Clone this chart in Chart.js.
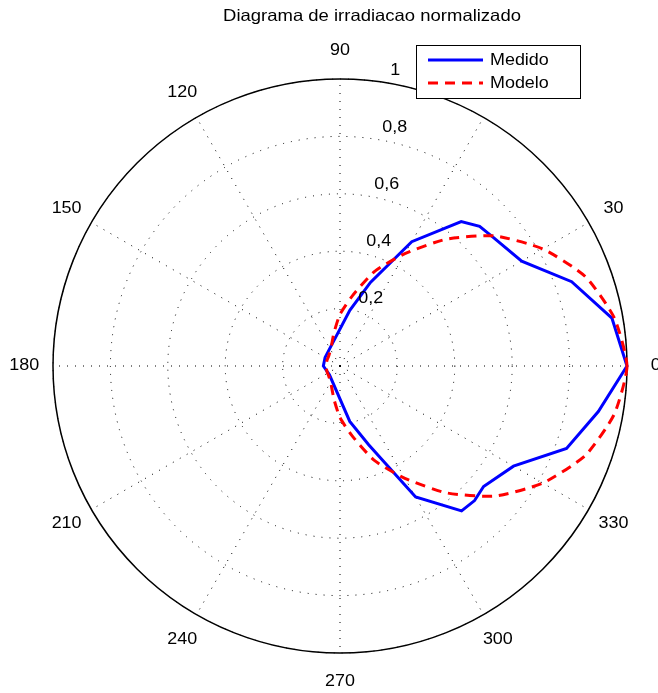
<!DOCTYPE html>
<html>
<head>
<meta charset="utf-8">
<title>Diagrama de irradiacao normalizado</title>
<script src="https://cdn.jsdelivr.net/npm/chart.js@4.4.1/dist/chart.umd.min.js"></script>
<style>
  html, body { margin: 0; padding: 0; background: #fff; }
  #wrap { width: 658px; height: 693px; }
</style>
</head>
<body>
<div id="wrap"><canvas id="myChart" width="658" height="693"></canvas></div>
<script>
// angulos em graus (sentido anti-horario, 0 a direita)
var angulosMedido = [0, 10, 20, 30, 40, 45, 50, 60, 70, 80, 150, 180, 220, 280, 290, 300, 310, 315, 320, 330, 340, 350]
var medido = [1.0, 0.962, 0.859, 0.731, 0.697, 0.688, 0.657, 0.50, 0.31, 0.197, 0.06, 0.058, 0.048, 0.196, 0.292, 0.527, 0.659, 0.663, 0.653, 0.698, 0.84, 0.914]

var angulosModelo = [0, 10, 20, 30, 40, 50, 60, 70, 80, 90, 100, 110, 120, 130, 140, 150, 160, 170,
                     180, 190, 200, 210, 220, 230, 240, 250, 260, 270, 280, 290, 300, 310, 320, 330, 340, 350]
var modelo = [1.0, 0.97, 0.91, 0.816, 0.705, 0.577, 0.452, 0.35, 0.248, 0.18, 0.119, 0.083, 0.065, 0.057, 0.052, 0.05, 0.049, 0.048,
              0.048, 0.048, 0.049, 0.05, 0.052, 0.057, 0.065, 0.083, 0.119, 0.18, 0.248, 0.35, 0.452, 0.577, 0.705, 0.816, 0.91, 0.97]

var rotulosAngulo = [0, 30, 60, 90, 120, 150, 180, 210, 240, 270, 300, 330]
var valoresRaio = [0.2, 0.4, 0.6, 0.8, 1]
var rotulosRaio = ['0,2', '0,4', '0,6', '0,8', '1']

var nomes = ['Medido', 'Modelo']
var titulo = 'Diagrama de irradiacao normalizado'

// grade de 5 graus, indo no sentido horario a partir de 0 (radar do chart.js)
var passo = 5
var grade = []
for (var i = 0; i < 360 / passo; i++) grade.push((360 - i * passo) % 360)

function naGrade(angs, vals) {
  var out = grade.map(function () { return null })
  for (var k = 0; k < angs.length; k++) {
    out[((360 - angs[k]) % 360) / passo] = vals[k]
  }
  return out
}

var fonte = '"Liberation Sans", Arial, Helvetica, sans-serif'
var esticar = 1.12

function texto(ctx, t, x, y, size, align, base) {
  ctx.save()
  ctx.font = size + 'px ' + fonte
  ctx.fillStyle = '#000'
  ctx.textAlign = align
  ctx.textBaseline = base
  ctx.translate(x, y)
  ctx.scale(esticar, 1)
  ctx.fillText(t, 0, 0)
  ctx.restore()
}

var extras = {
  id: 'extras',
  beforeDatasetsDraw: function (chart) {
    var s = chart.scales.r
    var ctx = chart.ctx
    ctx.save()
    ctx.strokeStyle = '#000'
    ctx.lineWidth = 1.5
    ctx.beginPath()
    ctx.arc(s.xCenter, s.yCenter, s.getDistanceFromCenterForValue(1), 0, Math.PI * 2)
    ctx.stroke()
    ctx.restore()
  },
  afterDatasetsDraw: function (chart) {
    var s = chart.scales.r
    var ctx = chart.ctx

    // rotulos do raio, na linha de 82 graus
    var a82 = 82 * Math.PI / 180
    for (var k = 0; k < valoresRaio.length; k++) {
      var r = s.getDistanceFromCenterForValue(valoresRaio[k] + 0.01)
      texto(ctx, '  ' + rotulosRaio[k], s.xCenter + r * Math.cos(a82), s.yCenter - r * Math.sin(a82), 16, 'left', 'bottom')
    }

    // rotulos dos angulos
    var dist = s.getDistanceFromCenterForValue(1.1)
    rotulosAngulo.forEach(function (a) {
      var p = s.getPointPosition(((360 - a) % 360) / passo, dist)
      texto(ctx, String(a), p.x, p.y, 16, 'center', 'middle')
    })

    // legenda
    var bx = 416, by = 45, bw = 164, bh = 53
    ctx.save()
    ctx.fillStyle = '#fff'
    ctx.fillRect(bx, by, bw, bh)
    ctx.strokeStyle = '#000'
    ctx.lineWidth = 1
    ctx.strokeRect(bx + 0.5, by + 0.5, bw, bh)
    chart.data.datasets.slice().sort(function (a, b) { return nomes.indexOf(a.label) - nomes.indexOf(b.label) })
      .forEach(function (ds, j) {
        var ly = by + 15 + j * 23
        ctx.strokeStyle = ds.borderColor
        ctx.lineWidth = ds.borderWidth
        ctx.setLineDash(ds.borderDash || [])
        ctx.beginPath()
        ctx.moveTo(bx + 12, ly)
        ctx.lineTo(bx + 67, ly)
        ctx.stroke()
        ctx.setLineDash([])
        texto(ctx, ds.label, bx + 74, ly + 1, 16, 'left', 'middle')
      })
    ctx.restore()

    texto(ctx, titulo, 372, 16, 16.5, 'center', 'middle')
  }
}

var corGrade = '#000'

var chart = new Chart(document.getElementById('myChart').getContext('2d'), {
  type: 'radar',
  data: {
    labels: grade,
    datasets: [
      {
        label: nomes[0],
        data: naGrade(angulosMedido, medido),
        borderColor: '#0000ff',
        borderWidth: 3,
        pointRadius: 0,
        fill: false,
        spanGaps: true,
        tension: 0,
        order: 1
      },
      {
        label: nomes[1],
        data: naGrade(angulosModelo, modelo),
        borderColor: '#ff0000',
        borderWidth: 3,
        borderDash: [10, 7],
        pointRadius: 0,
        fill: false,
        spanGaps: true,
        tension: 0.2,
        order: 0
      }
    ]
  },
  options: {
    responsive: false,
    animation: false,
    layout: { padding: { left: 53, right: 31, top: 79, bottom: 40 } },
    plugins: { legend: { display: false }, title: { display: false }, tooltip: { enabled: false } },
    elements: { line: { borderJoinStyle: 'miter', borderCapStyle: 'butt' } },
    scales: {
      r: {
        min: 0,
        max: 1,
        startAngle: 90,
        ticks: { display: false, stepSize: 0.2 },
        pointLabels: { display: false },
        grid: { circular: true, color: corGrade, lineWidth: 1 },
        border: { dash: [1, 7] },
        angleLines: {
          display: true,
          lineWidth: 1,
          borderDash: [1, 7],
          color: function (c) { return Number(c.label) % 30 === 0 ? corGrade : 'rgba(0,0,0,0)' }
        },
        afterFit: function (s) {
          s.xCenter = s.left + s.width / 2
          s.yCenter = s.top + s.height / 2
          s.drawingArea = Math.min(s.width, s.height) / 2
        }
      }
    }
  },
  plugins: [extras]
})
</script>
</body>
</html>
